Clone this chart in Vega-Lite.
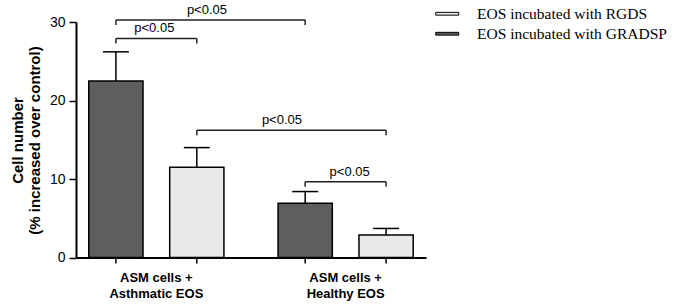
{
  "$schema": "https://vega.github.io/schema/vega-lite/v6.json",
  "width": 350,
  "height": 235.5,
  "autosize": {"type": "none"},
  "padding": {"left": 76, "top": 22, "right": 254, "bottom": 48.5},
  "background": "white",
  "config": {"view": {"stroke": null}, "font": "Liberation Sans"},
  "datasets": {
    "bars": [
      {"cat": "ASM cells + Asthmatic EOS", "trt": "EOS incubated with GRADSP", "value": 22.5, "upper": 26.2},
      {"cat": "ASM cells + Asthmatic EOS", "trt": "EOS incubated with RGDS", "value": 11.5, "upper": 14.0},
      {"cat": "ASM cells + Healthy EOS", "trt": "EOS incubated with GRADSP", "value": 6.9, "upper": 8.4},
      {"cat": "ASM cells + Healthy EOS", "trt": "EOS incubated with RGDS", "value": 2.87, "upper": 3.7}
    ],
    "brackets": [
      {"id": 1, "end": "start", "cat": "ASM cells + Asthmatic EOS", "trt": "EOS incubated with GRADSP", "y": 30.25, "label": "p<0.05"},
      {"id": 1, "end": "end", "cat": "ASM cells + Healthy EOS", "trt": "EOS incubated with GRADSP", "y": 30.25, "label": "p<0.05"},
      {"id": 2, "end": "start", "cat": "ASM cells + Asthmatic EOS", "trt": "EOS incubated with GRADSP", "y": 27.9, "label": "p<0.05"},
      {"id": 2, "end": "end", "cat": "ASM cells + Asthmatic EOS", "trt": "EOS incubated with RGDS", "y": 27.9, "label": "p<0.05"},
      {"id": 3, "end": "start", "cat": "ASM cells + Asthmatic EOS", "trt": "EOS incubated with RGDS", "y": 16.2, "label": "p<0.05"},
      {"id": 3, "end": "end", "cat": "ASM cells + Healthy EOS", "trt": "EOS incubated with RGDS", "y": 16.2, "label": "p<0.05"},
      {"id": 4, "end": "start", "cat": "ASM cells + Healthy EOS", "trt": "EOS incubated with GRADSP", "y": 9.65, "label": "p<0.05"},
      {"id": 4, "end": "end", "cat": "ASM cells + Healthy EOS", "trt": "EOS incubated with RGDS", "y": 9.65, "label": "p<0.05"}
    ]
  },
  "layer": [
    {
      "data": {"name": "bars"},
      "mark": {"type": "bar", "stroke": "black", "strokeWidth": 1.5},
      "encoding": {
        "x": {
          "field": "cat", "type": "nominal",
          "scale": {"domain": ["ASM cells + Asthmatic EOS", "ASM cells + Healthy EOS"], "paddingInner": 0.151, "paddingOuter": 0},
          "axis": {
            "title": null, "ticks": false, "labelAngle": 0,
            "labelExpr": "['ASM cells +', replace(datum.label, 'ASM cells + ', '')]",
            "labelFont": "Liberation Sans", "labelFontSize": 13, "labelFontWeight": "bold", "labelColor": "black",
            "labelLineHeight": 16, "labelPadding": 14,
            "domainColor": "black", "domainWidth": 2
          }
        },
        "xOffset": {
          "field": "trt", "type": "nominal",
          "scale": {"domain": ["EOS incubated with GRADSP", "EOS incubated with RGDS"], "paddingInner": 0.33, "paddingOuter": 0.158}
        },
        "y": {
          "field": "value", "type": "quantitative",
          "scale": {"domain": [0, 30], "nice": false},
          "axis": {
            "title": ["Cell number", "(% increased over control)"],
            "values": [0, 5, 10, 15, 20, 25, 30],
            "labelExpr": "datum.value % 10 === 0 ? datum.label : ''",
            "grid": false, "domainColor": "black", "domainWidth": 2,
            "tickColor": "black", "tickWidth": 1.5, "tickSize": 7,
            "labelFont": "Liberation Sans", "labelFontSize": 14, "labelColor": "black", "labelPadding": 4,
            "titleFont": "Liberation Sans", "titleFontSize": 15, "titleFontWeight": "bold", "titleColor": "black",
            "titleLineHeight": 17, "titleX": -50.5, "titleY": 118, "titleAngle": 270, "titleBaseline": "bottom", "titleAlign": "center"
          }
        },
        "color": {
          "field": "trt", "type": "nominal",
          "scale": {"domain": ["EOS incubated with RGDS", "EOS incubated with GRADSP"], "range": ["#e9e9e9", "#5e5e5e"]},
          "legend": {
            "title": null, "orient": "none", "legendX": 363.5, "legendY": -16,
            "symbolType": "M-2.3,-0.28H2.3V0.28H-2.3Z", "symbolSize": 100,
            "symbolStrokeColor": "black", "symbolStrokeWidth": 1,
            "labelFont": "Liberation Serif", "labelFontSize": 15.5, "labelColor": "black", "labelLimit": 400,
            "labelOffset": 22, "rowPadding": 3, "padding": 0
          }
        }
      }
    },
    {
      "data": {"name": "bars"},
      "mark": {"type": "rule", "color": "black", "strokeWidth": 1.5},
      "encoding": {
        "x": {"field": "cat", "type": "nominal"},
        "xOffset": {"field": "trt", "type": "nominal"},
        "y": {"field": "value", "type": "quantitative"},
        "y2": {"field": "upper"}
      }
    },
    {
      "data": {"name": "bars"},
      "mark": {"type": "tick", "color": "black", "size": 26, "thickness": 1.5, "opacity": 1},
      "encoding": {
        "x": {"field": "cat", "type": "nominal"},
        "xOffset": {"field": "trt", "type": "nominal"},
        "y": {"field": "upper", "type": "quantitative"}
      }
    },
    {
      "data": {"name": "bars"},
      "mark": {"type": "rule", "color": "black", "strokeWidth": 1.5},
      "encoding": {
        "x": {"field": "cat", "type": "nominal"},
        "xOffset": {"field": "trt", "type": "nominal"},
        "y": {"datum": 0},
        "y2": {"datum": -0.76}
      }
    },
    {
      "data": {"name": "brackets"},
      "mark": {"type": "line", "color": "#222", "strokeWidth": 1.5},
      "encoding": {
        "x": {"field": "cat", "type": "nominal"},
        "xOffset": {"field": "trt", "type": "nominal"},
        "y": {"field": "y", "type": "quantitative"},
        "detail": {"field": "id"}
      }
    },
    {
      "data": {"name": "brackets"},
      "mark": {"type": "tick", "orient": "vertical", "color": "#222", "size": 5, "thickness": 1.5, "yOffset": 2.5, "opacity": 1},
      "encoding": {
        "x": {"field": "cat", "type": "nominal"},
        "xOffset": {"field": "trt", "type": "nominal"},
        "y": {"field": "y", "type": "quantitative"}
      }
    },
    {
      "data": {"name": "brackets"},
      "transform": [{"filter": "datum.end == 'start' && datum.id == 1"}],
      "mark": {"type": "text", "font": "Liberation Sans", "fontSize": 13, "color": "black", "baseline": "alphabetic", "dy": -6, "dx": 50.6},
      "encoding": {
        "x": {"field": "cat", "type": "nominal"},
        "y": {"field": "y", "type": "quantitative"},
        "text": {"field": "label"}
      }
    },
    {
      "data": {"name": "brackets"},
      "transform": [{"filter": "datum.end == 'start' && datum.id == 2"}],
      "mark": {"type": "text", "font": "Liberation Sans", "fontSize": 13, "color": "black", "baseline": "alphabetic", "dy": -6, "dx": -2},
      "encoding": {
        "x": {"field": "cat", "type": "nominal"},
        "y": {"field": "y", "type": "quantitative"},
        "text": {"field": "label"}
      }
    },
    {
      "data": {"name": "brackets"},
      "transform": [{"filter": "datum.end == 'start' && datum.id == 3"}],
      "mark": {"type": "text", "font": "Liberation Sans", "fontSize": 13, "color": "black", "baseline": "alphabetic", "dy": -6, "dx": 125.6},
      "encoding": {
        "x": {"field": "cat", "type": "nominal"},
        "y": {"field": "y", "type": "quantitative"},
        "text": {"field": "label"}
      }
    },
    {
      "data": {"name": "brackets"},
      "transform": [{"filter": "datum.end == 'start' && datum.id == 4"}],
      "mark": {"type": "text", "font": "Liberation Sans", "fontSize": 13, "color": "black", "baseline": "alphabetic", "dy": -6, "dx": 4},
      "encoding": {
        "x": {"field": "cat", "type": "nominal"},
        "y": {"field": "y", "type": "quantitative"},
        "text": {"field": "label"}
      }
    }
  ]
}
